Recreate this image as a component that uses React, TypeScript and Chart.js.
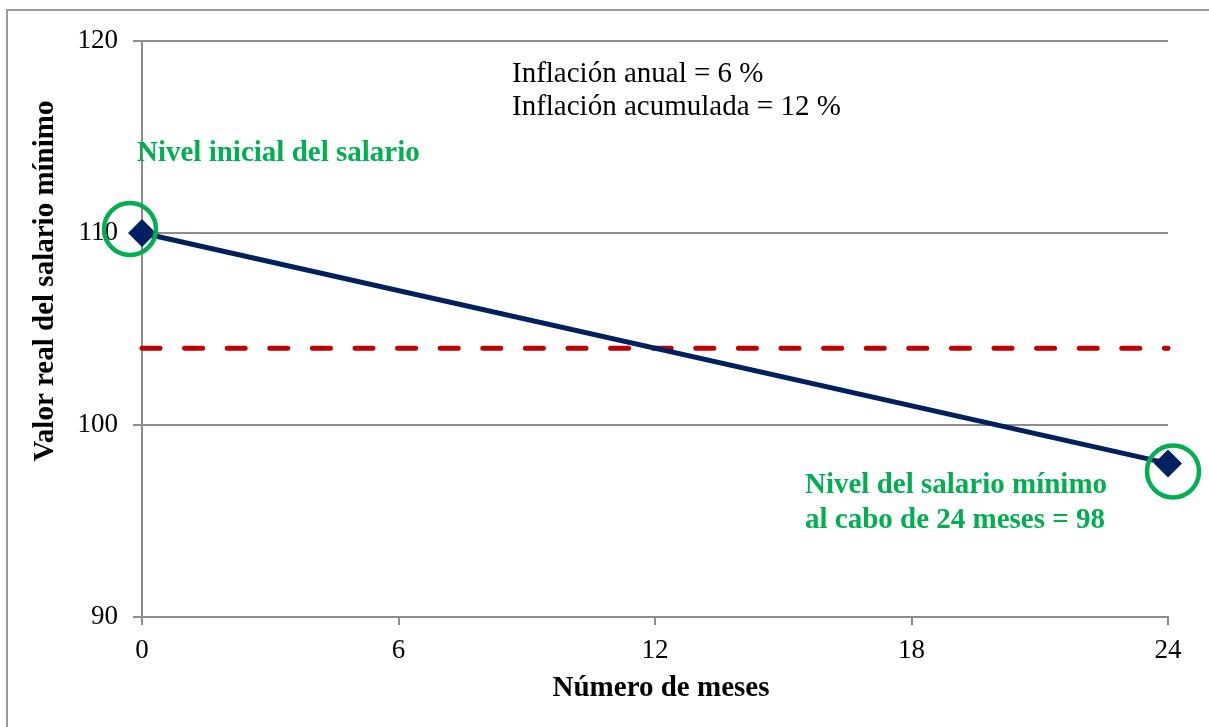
import React, { useEffect, useRef } from "react";
import { Chart, registerables } from "chart.js";

Chart.register(...registerables);

const months = [0, 24];
const realWage = [110, 98];
const referenceLevel = [104, 104];
const xTickStep = 6;
const yTickStep = 10;
const xRange = [0, 24];
const yRange = [90, 120];

const xTitle = "Número de meses";
const yTitle = "Valor real del salario mínimo";
const infoLines = ["Inflación anual = 6 %", "Inflación acumulada = 12 %"];
const startNote = "Nivel inicial del salario";
const endNote = ["Nivel del salario mínimo", "al cabo de 24 meses = 98"];

const SERIF = '"Liberation Serif", "Times New Roman", serif';
const GREEN = "#00B050";
const NAVY = "#002060";
const RED = "#C00000";
const GRAY = "#8c8c8c";

const overlay = {
  id: "overlay",
  beforeDraw(chart: any) {
    const ctx = chart.ctx;
    ctx.save();
    ctx.fillStyle = "#ffffff";
    ctx.fillRect(0, 0, chart.width, chart.height);
    ctx.strokeStyle = "#9a9a9a";
    ctx.lineWidth = 2;
    ctx.beginPath();
    ctx.moveTo(7, chart.height + 2);
    ctx.lineTo(7, 10);
    ctx.lineTo(chart.width + 2, 10);
    ctx.stroke();
    ctx.restore();
  },
  afterDatasetsDraw(chart: any) {
    const ctx = chart.ctx;
    const xs = chart.scales.x;
    const ys = chart.scales.y;
    const p0x = xs.getPixelForValue(months[0]);
    const p0y = ys.getPixelForValue(realWage[0]);
    const p1x = xs.getPixelForValue(months[1]);
    const p1y = ys.getPixelForValue(realWage[1]);
    ctx.save();
    ctx.strokeStyle = GREEN;
    ctx.lineWidth = 4.5;
    ctx.beginPath();
    ctx.arc(p0x - 12, p0y - 4, 26, 0, Math.PI * 2);
    ctx.stroke();
    ctx.beginPath();
    ctx.arc(p1x + 5, p1y + 8, 26, 0, Math.PI * 2);
    ctx.stroke();

    ctx.textBaseline = "middle";
    ctx.textAlign = "left";
    ctx.fillStyle = "#000";
    ctx.font = `29px ${SERIF}`;
    ctx.fillText(infoLines[0], 512, 74);
    ctx.fillText(infoLines[1], 512, 107);

    ctx.fillStyle = GREEN;
    ctx.font = `bold 29px ${SERIF}`;
    ctx.fillText(startNote, 137, 154);
    ctx.fillText(endNote[0], 805, 486);
    ctx.fillText(endNote[1], 805, 521);

    ctx.fillStyle = "#000";
    ctx.font = `bold 29px ${SERIF}`;
    ctx.textAlign = "center";
    ctx.fillText(xTitle, 661, 689);
    ctx.translate(46, 281);
    ctx.rotate(-Math.PI / 2);
    ctx.fillText(yTitle, 0, 0);
    ctx.restore();
  },
};

export default function App() {
  const ref = useRef<HTMLCanvasElement | null>(null);

  useEffect(() => {
    document.body.style.margin = "0";
    if (!ref.current) return;
    const chart = new Chart(ref.current, {
      type: "line",
      data: {
        datasets: [
          {
            label: "Salario real",
            data: months.map((m, i) => ({ x: m, y: realWage[i] })),
            borderColor: NAVY,
            backgroundColor: NAVY,
            borderWidth: 5,
            pointStyle: "rectRot",
            pointRadius: 14,
            pointBackgroundColor: NAVY,
            pointBorderWidth: 0,
            clip: false,
            order: 1,
          },
          {
            label: "Promedio",
            data: months.map((m, i) => ({ x: m, y: referenceLevel[i] })),
            borderColor: RED,
            borderWidth: 5,
            borderDash: [18, 24.6],
            borderCapStyle: "round",
            pointRadius: 0,
            clip: false,
            order: 2,
          },
        ],
      },
      options: {
        responsive: false,
        animation: false,
        layout: { padding: { top: 41, right: 41, left: 0, bottom: 0 } },
        plugins: {
          legend: { display: false },
          tooltip: { enabled: false },
        },
        scales: {
          x: {
            type: "linear",
            min: xRange[0],
            max: xRange[1],
            afterFit: (s: any) => {
              s.height = 110;
            },
            ticks: {
              stepSize: xTickStep,
              color: "#000",
              font: { family: SERIF, size: 27 },
              padding: 10,
              maxRotation: 0,
            },
            grid: {
              drawOnChartArea: false,
              drawTicks: true,
              tickLength: 8,
              color: GRAY,
              lineWidth: 2,
            },
            border: { display: true, color: GRAY, width: 2 },
          },
          y: {
            min: yRange[0],
            max: yRange[1],
            afterFit: (s: any) => {
              s.width = 142;
            },
            ticks: {
              stepSize: yTickStep,
              color: "#000",
              font: { family: SERIF, size: 27 },
              padding: 15,
            },
            grid: {
              drawTicks: true,
              tickLength: 9,
              color: GRAY,
              lineWidth: 2,
            },
            border: { display: true, color: GRAY, width: 2 },
          },
        },
      },
      plugins: [overlay],
    });
    return () => chart.destroy();
  }, []);

  return (
    <div style={{ position: "fixed", left: 0, top: 0, width: 1209, height: 727 }}>
      <canvas ref={ref} width={1209} height={727} style={{ display: "block" }} />
    </div>
  );
}
